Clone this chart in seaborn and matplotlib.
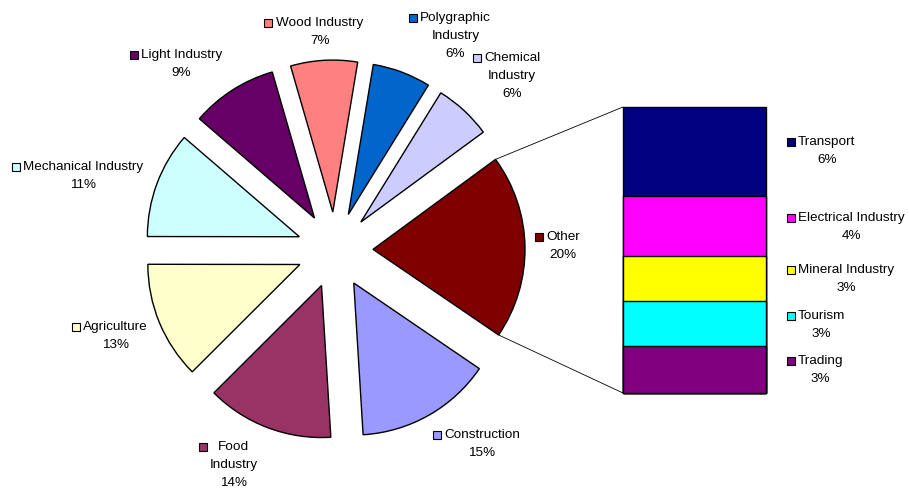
import numpy as np
import matplotlib
matplotlib.use("Agg")
import matplotlib.pyplot as plt
from matplotlib.patches import Rectangle, ConnectionPatch
import seaborn as sns

# Share of employment by sector (%), pie slices listed counterclockwise after "Other"
main_labels = ["Chemical\nIndustry", "Polygraphic\nIndustry", "Wood Industry", "Light Industry",
               "Mechanical Industry", "Agriculture", "Food\nIndustry", "Construction"]
main_values = [6.1, 6.2, 7.1, 9.2, 11.3, 12.5, 13.5, 14.5]
main_colors = ["#CCCCFF", "#0066CC", "#FF8080", "#660066",
               "#CCFFFF", "#FFFFCC", "#993366", "#9999FF"]

# Breakdown of the "Other" slice, top of the bar to bottom
other_name = "Other"
other_color = "#800000"
other_labels = ["Transport", "Electrical Industry", "Mineral Industry", "Tourism", "Trading"]
other_values = [6.1, 4.1, 3.1, 3.1, 3.2]
other_colors = ["#000080", "#FF00FF", "#FFFF00", "#00FFFF", "#800080"]

sns.set_theme(style="white")
plt.rcParams["font.family"] = ["Liberation Sans", "DejaVu Sans"]

W, H = 909, 490
fig = plt.figure(figsize=(W / 100, H / 100), dpi=100)
fig.patch.set_facecolor("white")

# main axes in pixel units (y up)
ax = fig.add_axes([0, 0, 1, 1])
ax.set_axis_off()

other_total = float(np.sum(other_values))
pie_values = [other_total] + list(main_values)
pie_colors = [other_color] + list(main_colors)
grand_total = float(np.sum(pie_values))


def pct_text(v):
    p = round(v / grand_total * 100, 6)
    return f"{int(np.floor(p + 0.5))}%"


center = (335, H - 250)
radius = 152
offset = 0.25 * radius   # every slice pulled out by the same distance
wedges, _ = ax.pie(pie_values, colors=pie_colors, center=center, radius=radius,
                   explode=[offset] * len(pie_values),
                   startangle=-other_total / grand_total * 180 + 1.0,
                   counterclock=True,
                   wedgeprops=dict(edgecolor="black", linewidth=1.0))
ax.set_aspect("auto")
ax.set_xlim(0, W)
ax.set_ylim(0, H)

# stacked bar for the breakdown of "Other"
bx0, bx1, by0, by1 = 623, 766, 107, 393
bax = fig.add_axes([bx0 / W, (H - by1) / H, (bx1 - bx0) / W, (by1 - by0) / H])
cum = np.cumsum(other_values[::-1])[::-1]   # height of each segment's top
for top, col in zip(cum, other_colors):
    sns.barplot(x=[other_name], y=[top], color=col, saturation=1, width=1,
                edgecolor="black", linewidth=1.0, errorbar=None, ax=bax)
for p in bax.patches:
    p.set_clip_on(False)
bax.set_xlim(-0.5, 0.5)
bax.set_ylim(0, other_total)
bax.set_axis_off()

# connector lines from the "Other" slice to the bar
w = wedges[0]
cx, cy = w.center
for ang, yb in [(w.theta2, other_total), (w.theta1, 0)]:
    pt = (cx + w.r * np.cos(np.radians(ang)), cy + w.r * np.sin(np.radians(ang)))
    con = ConnectionPatch(xyA=pt, coordsA=ax.transData, xyB=(-0.5, yb),
                          coordsB=bax.transData, color="black", linewidth=0.6)
    fig.add_artist(con)

renderer = fig.canvas.get_renderer()
FS = 9.7
LINE = 18
KEY = 8


def draw_label(name, pct, color, key_x, y_top, gap=3):
    lines = name.split("\n") + [pct]
    y = H - y_top
    ax.add_patch(Rectangle((key_x, y - KEY / 2), KEY, KEY, facecolor=color,
                           edgecolor="black", linewidth=0.8, clip_on=False))
    t = ax.text(key_x + KEY + gap, y, lines[0], ha="left", va="center",
                fontsize=FS, color="black")
    bb = t.get_window_extent(renderer=renderer)
    xc = key_x + KEY + gap + bb.width / 2
    for i, ln in enumerate(lines[1:], start=1):
        ax.text(xc, y - LINE * i, ln, ha="center", va="center",
                fontsize=FS, color="black")


# label anchors: key-square left edge and first-line centre (pixels from top-left)
pie_label_pos = {
    "Chemical\nIndustry": (473, 58, 3),
    "Polygraphic\nIndustry": (409, 18, 3),
    "Wood Industry": (264, 23, 4),
    "Light Industry": (130, 55, 3),
    "Mechanical Industry": (12, 167, 3),
    "Agriculture": (72, 327, 3),
    "Food\nIndustry": (199, 447, 11),
    "Construction": (433, 435, 3),
}
for name, v, col in zip(main_labels, main_values, main_colors):
    kx, ky, g = pie_label_pos[name]
    draw_label(name, pct_text(v), col, kx, ky, g)

draw_label(other_name, pct_text(other_total), other_color, 535, 237)

bar_label_y = [142, 218, 270, 316, 361]
for name, v, col, ly in zip(other_labels, other_values, other_colors, bar_label_y):
    draw_label(name, pct_text(v), col, 787, ly)

fig.savefig("out.png", dpi=100, facecolor="white")
